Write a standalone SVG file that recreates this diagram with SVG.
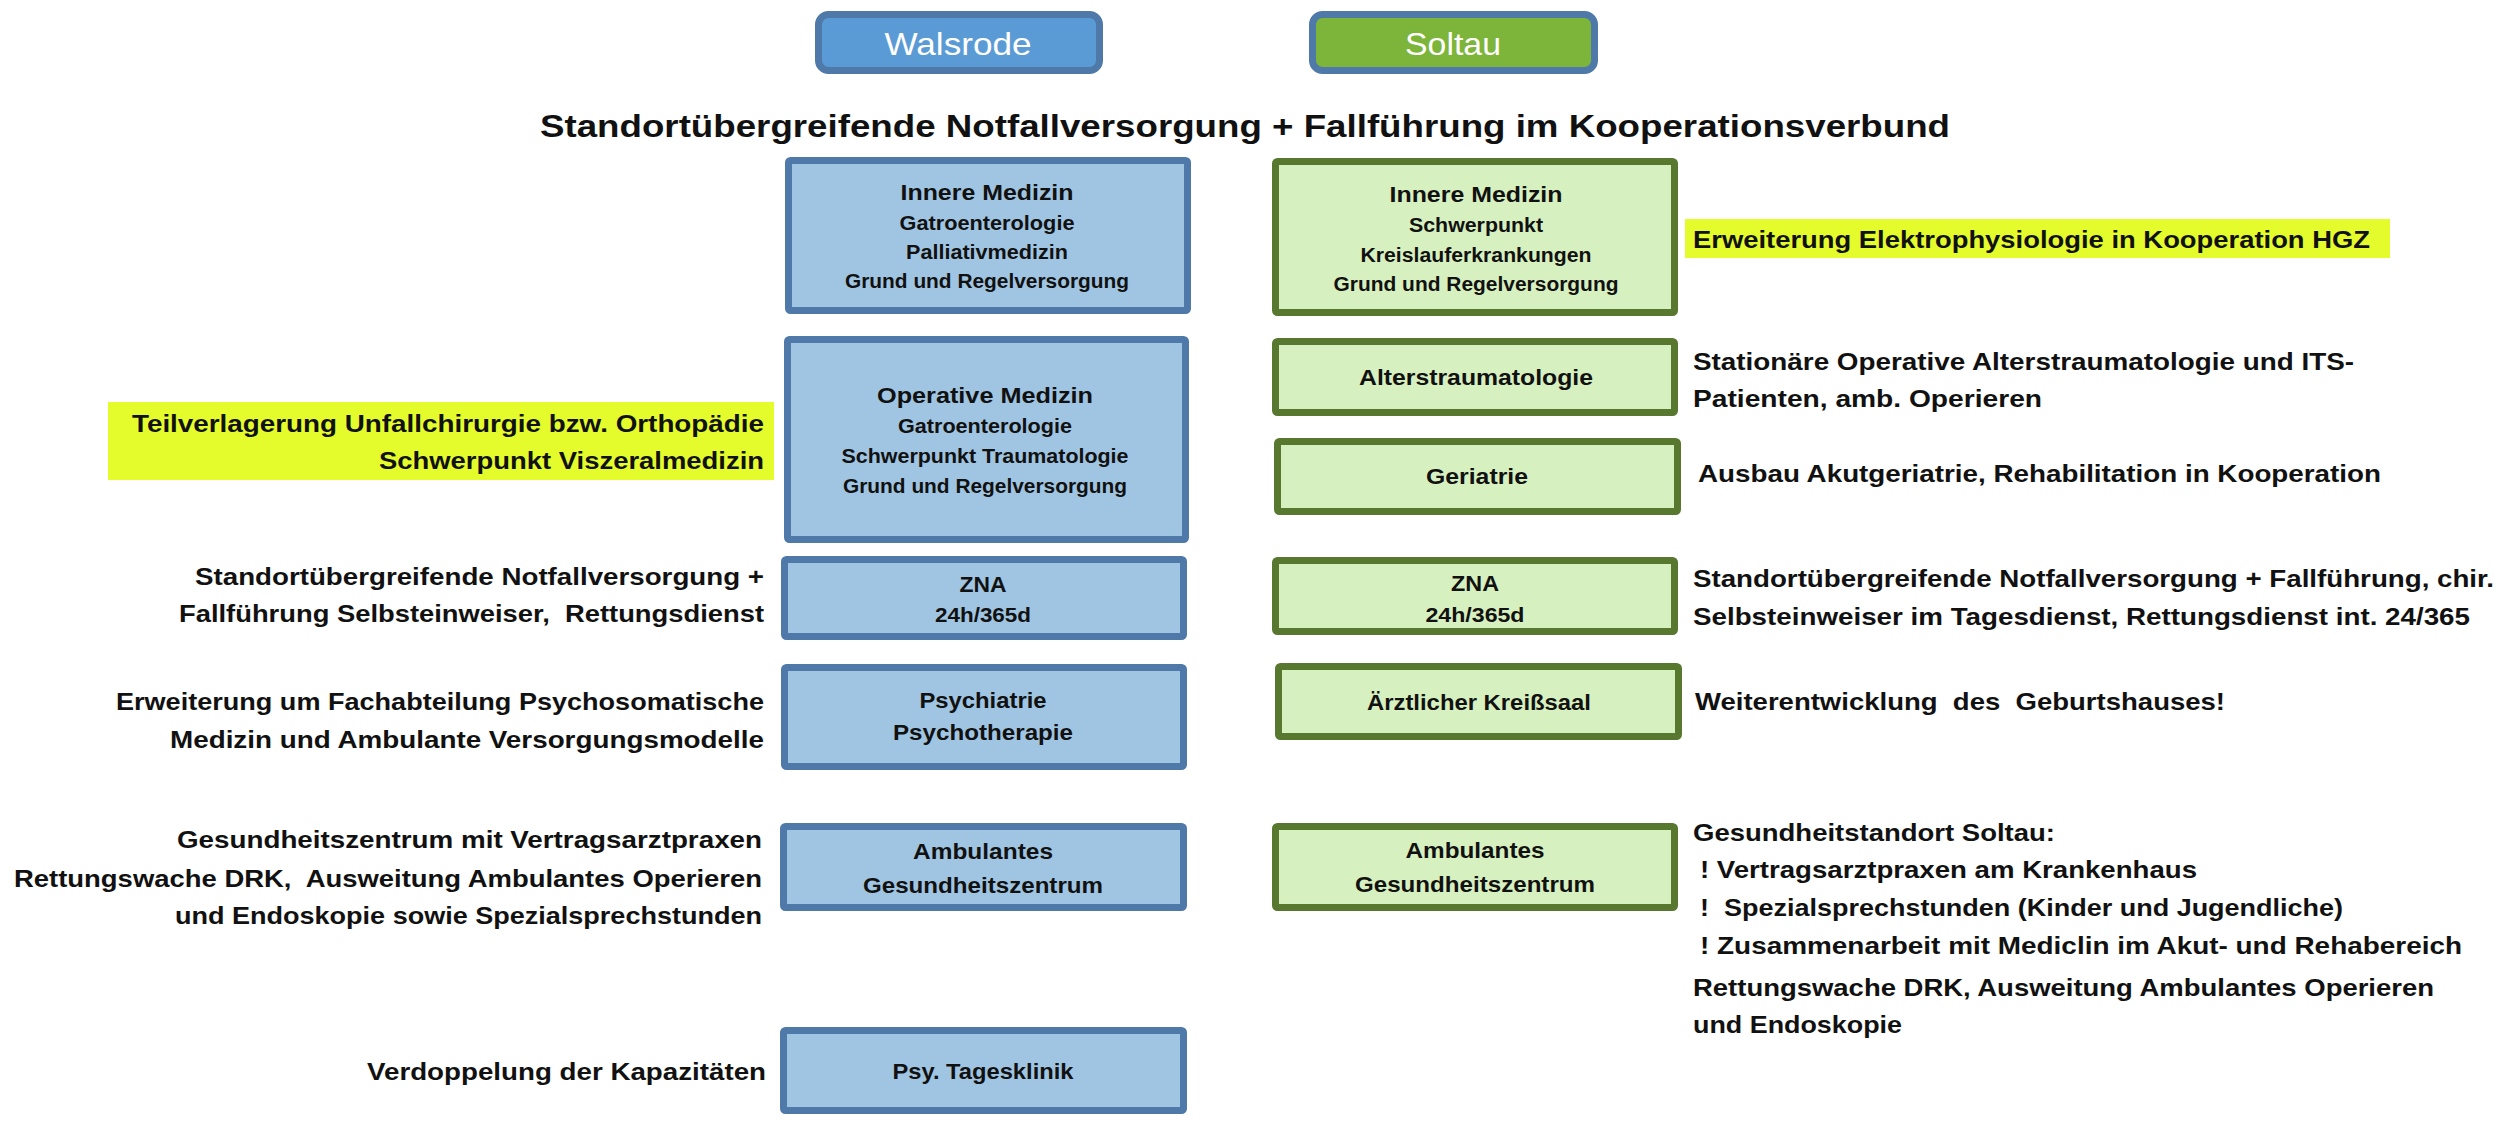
<svg xmlns="http://www.w3.org/2000/svg" width="2500" height="1124" viewBox="0 0 2500 1124" xml:space="preserve">
<style>
text{font-family:"Liberation Sans",Arial,sans-serif;fill:#111;font-weight:bold;white-space:pre}
.hdr{font-weight:normal;fill:#fff;font-size:32px;text-anchor:middle}
.title{font-size:32px;text-anchor:middle}
.bh{font-size:22px;text-anchor:middle}
.bs{font-size:19.5px;text-anchor:middle}
.ol{font-size:24px;text-anchor:end}
.or{font-size:24px}
.blue{fill:#a0c5e2;stroke:#4e79a9;stroke-width:7}
.green{fill:#d7f0c0;stroke:#58782f;stroke-width:7}
.hl{fill:#e4fc2c}
</style>
<rect width="2500" height="1124" fill="#fff"/>
<g id="walsrode"><rect x="818.5" y="14.5" width="281" height="56" rx="10" fill="#5b9bd5" stroke="#4e79a9" stroke-width="7"/><text class="hdr" x="958" y="55" textLength="147" lengthAdjust="spacingAndGlyphs">Walsrode</text></g>
<g id="soltau"><rect x="1312.5" y="14.5" width="282" height="56" rx="10" fill="#7db53a" stroke="#4e79a9" stroke-width="7"/><text class="hdr" x="1453" y="55" textLength="96" lengthAdjust="spacingAndGlyphs">Soltau</text></g>
<g id="title"><text class="title" x="1245" y="137" textLength="1410" lengthAdjust="spacingAndGlyphs">Standortübergreifende Notfallversorgung + Fallführung im Kooperationsverbund</text></g>
<g id="w-innere"><rect class="blue" x="788.5" y="160.5" width="399" height="150" rx="2"/><text class="bh" x="987" y="200" textLength="173" lengthAdjust="spacingAndGlyphs">Innere Medizin</text><text class="bs" x="987" y="230" textLength="175" lengthAdjust="spacingAndGlyphs">Gatroenterologie</text><text class="bs" x="987" y="259" textLength="162" lengthAdjust="spacingAndGlyphs">Palliativmedizin</text><text class="bs" x="987" y="288" textLength="284" lengthAdjust="spacingAndGlyphs">Grund und Regelversorgung</text></g>
<g id="w-operative"><rect class="blue" x="787.5" y="339.5" width="398" height="200" rx="2"/><text class="bh" x="985" y="403" textLength="216" lengthAdjust="spacingAndGlyphs">Operative Medizin</text><text class="bs" x="985" y="433" textLength="174" lengthAdjust="spacingAndGlyphs">Gatroenterologie</text><text class="bs" x="985" y="463" textLength="287" lengthAdjust="spacingAndGlyphs">Schwerpunkt Traumatologie</text><text class="bs" x="985" y="493" textLength="284" lengthAdjust="spacingAndGlyphs">Grund und Regelversorgung</text></g>
<g id="w-zna"><rect class="blue" x="784.5" y="559.5" width="399" height="77" rx="2"/><text class="bh" x="983" y="592" textLength="47" lengthAdjust="spacingAndGlyphs">ZNA</text><text class="bs" x="983" y="622" textLength="96" lengthAdjust="spacingAndGlyphs">24h/365d</text></g>
<g id="w-psych"><rect class="blue" x="784.5" y="667.5" width="399" height="99" rx="2"/><text class="bh" x="983" y="708" textLength="127" lengthAdjust="spacingAndGlyphs">Psychiatrie</text><text class="bh" x="983" y="740" textLength="180" lengthAdjust="spacingAndGlyphs">Psychotherapie</text></g>
<g id="w-ambulant"><rect class="blue" x="783.5" y="826.5" width="400" height="81" rx="2"/><text class="bh" x="983" y="859" textLength="140" lengthAdjust="spacingAndGlyphs">Ambulantes</text><text class="bh" x="983" y="893" textLength="240" lengthAdjust="spacingAndGlyphs">Gesundheitszentrum</text></g>
<g id="w-tagesklinik"><rect class="blue" x="783.5" y="1030.5" width="400" height="80" rx="2"/><text class="bh" x="983" y="1079" textLength="181" lengthAdjust="spacingAndGlyphs">Psy. Tagesklinik</text></g>
<g id="s-innere"><rect class="green" x="1275.5" y="161.5" width="399" height="151" rx="2"/><text class="bh" x="1476" y="202" textLength="173" lengthAdjust="spacingAndGlyphs">Innere Medizin</text><text class="bs" x="1476" y="232" textLength="134" lengthAdjust="spacingAndGlyphs">Schwerpunkt</text><text class="bs" x="1476" y="262" textLength="231" lengthAdjust="spacingAndGlyphs">Kreislauferkrankungen</text><text class="bs" x="1476" y="291" textLength="285" lengthAdjust="spacingAndGlyphs">Grund und Regelversorgung</text></g>
<g id="s-alterstrauma"><rect class="green" x="1275.5" y="341.5" width="399" height="71" rx="2"/><text class="bh" x="1476" y="385" textLength="234" lengthAdjust="spacingAndGlyphs">Alterstraumatologie</text></g>
<g id="s-geriatrie"><rect class="green" x="1277.5" y="441.5" width="400" height="70" rx="2"/><text class="bh" x="1477" y="484" textLength="102" lengthAdjust="spacingAndGlyphs">Geriatrie</text></g>
<g id="s-zna"><rect class="green" x="1275.5" y="560.5" width="399" height="71" rx="2"/><text class="bh" x="1475" y="591" textLength="48" lengthAdjust="spacingAndGlyphs">ZNA</text><text class="bs" x="1475" y="622" textLength="99" lengthAdjust="spacingAndGlyphs">24h/365d</text></g>
<g id="s-kreisssaal"><rect class="green" x="1278.5" y="666.5" width="400" height="70" rx="2"/><text class="bh" x="1479" y="710" textLength="224" lengthAdjust="spacingAndGlyphs">Ärztlicher Kreißsaal</text></g>
<g id="s-ambulant"><rect class="green" x="1275.5" y="826.5" width="399" height="81" rx="2"/><text class="bh" x="1475" y="858" textLength="139" lengthAdjust="spacingAndGlyphs">Ambulantes</text><text class="bh" x="1475" y="892" textLength="240" lengthAdjust="spacingAndGlyphs">Gesundheitszentrum</text></g>
<g id="l-teilverlagerung"><rect class="hl" x="108" y="402" width="666" height="78"/><text class="ol" x="764" y="432" textLength="632" lengthAdjust="spacingAndGlyphs">Teilverlagerung Unfallchirurgie bzw. Orthopädie</text><text class="ol" x="764" y="469" textLength="385" lengthAdjust="spacingAndGlyphs">Schwerpunkt Viszeralmedizin</text></g>
<g id="l-notfall"><text class="ol" x="764" y="585" textLength="569" lengthAdjust="spacingAndGlyphs">Standortübergreifende Notfallversorgung +</text><text class="ol" x="764" y="622" textLength="585" lengthAdjust="spacingAndGlyphs">Fallführung Selbsteinweiser,  Rettungsdienst</text></g>
<g id="l-psycho"><text class="ol" x="764" y="710" textLength="648" lengthAdjust="spacingAndGlyphs">Erweiterung um Fachabteilung Psychosomatische</text><text class="ol" x="764" y="748" textLength="594" lengthAdjust="spacingAndGlyphs">Medizin und Ambulante Versorgungsmodelle</text></g>
<g id="l-gesundheit"><text class="ol" x="762" y="848" textLength="585" lengthAdjust="spacingAndGlyphs">Gesundheitszentrum mit Vertragsarztpraxen</text><text class="ol" x="762" y="887" textLength="748" lengthAdjust="spacingAndGlyphs">Rettungswache DRK,  Ausweitung Ambulantes Operieren</text><text class="ol" x="762" y="924" textLength="587" lengthAdjust="spacingAndGlyphs">und Endoskopie sowie Spezialsprechstunden</text></g>
<g id="l-verdoppelung"><text class="ol" x="766" y="1080" textLength="399" lengthAdjust="spacingAndGlyphs">Verdoppelung der Kapazitäten</text></g>
<g id="r-elektro"><rect class="hl" x="1685" y="219" width="705" height="39"/><text class="or" x="1693" y="248" textLength="677" lengthAdjust="spacingAndGlyphs">Erweiterung Elektrophysiologie in Kooperation HGZ</text></g>
<g id="r-alterstrauma"><text class="or" x="1693" y="370" textLength="661" lengthAdjust="spacingAndGlyphs">Stationäre Operative Alterstraumatologie und ITS-</text><text class="or" x="1693" y="407" textLength="349" lengthAdjust="spacingAndGlyphs">Patienten, amb. Operieren</text></g>
<g id="r-geriatrie"><text class="or" x="1698" y="482" textLength="683" lengthAdjust="spacingAndGlyphs">Ausbau Akutgeriatrie, Rehabilitation in Kooperation</text></g>
<g id="r-notfall"><text class="or" x="1693" y="587" textLength="801" lengthAdjust="spacingAndGlyphs">Standortübergreifende Notfallversorgung + Fallführung, chir.</text><text class="or" x="1693" y="625" textLength="777" lengthAdjust="spacingAndGlyphs">Selbsteinweiser im Tagesdienst, Rettungsdienst int. 24/365</text></g>
<g id="r-geburtshaus"><text class="or" x="1695" y="710" textLength="530" lengthAdjust="spacingAndGlyphs">Weiterentwicklung  des  Geburtshauses!</text></g>
<g id="r-gesundheit"><text class="or" x="1693" y="841" textLength="362" lengthAdjust="spacingAndGlyphs">Gesundheitstandort Soltau:</text><text class="or" x="1700" y="878" textLength="497" lengthAdjust="spacingAndGlyphs">! Vertragsarztpraxen am Krankenhaus</text><text class="or" x="1700" y="916" textLength="643" lengthAdjust="spacingAndGlyphs">!  Spezialsprechstunden (Kinder und Jugendliche)</text><text class="or" x="1700" y="954" textLength="762" lengthAdjust="spacingAndGlyphs">! Zusammenarbeit mit Mediclin im Akut- und Rehabereich</text><text class="or" x="1693" y="996" textLength="741" lengthAdjust="spacingAndGlyphs">Rettungswache DRK, Ausweitung Ambulantes Operieren</text><text class="or" x="1693" y="1033" textLength="209" lengthAdjust="spacingAndGlyphs">und Endoskopie</text></g>
</svg>
